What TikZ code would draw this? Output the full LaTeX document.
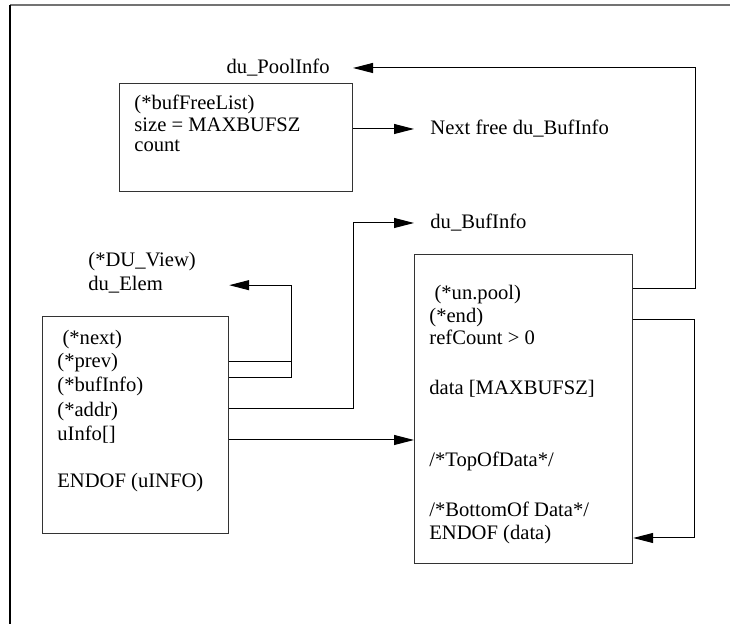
\documentclass[tikz,border=0pt]{standalone}
\usepackage{fontspec}
\setmainfont{Liberation Serif}
\usetikzlibrary{arrows.meta}

\tikzset{
  box/.style={draw=black!80, line width=0.6pt, inner sep=0pt, anchor=north west},
  txt/.style={inner sep=0pt, anchor=base west, font=\fontsize{10.3}{12}\selectfont},
  lbl/.style={inner xsep=0pt, inner ysep=0pt, font=\fontsize{10.3}{12}\selectfont},
  wire/.style={line width=0.5pt},
  ptr/.style={line width=0.5pt, -{Triangle[length=10pt,width=5pt]}}
}

\begin{document}
\begin{tikzpicture}[x=0.5pt,y=-0.5pt]
        \useasboundingbox (0,0) rectangle (730,624);
        \draw[black!55, line width=0.9pt] (10,5) -- (730,5);
        \draw[line width=0.8pt] (10,5) -- (10,624);

        \node[box, minimum width=116.5pt, minimum height=54pt] (pool) at (119,83) {};
        \node[box, minimum width=93pt, minimum height=108.5pt] (elem) at (42,316) {};
        \node[box, minimum width=109pt, minimum height=154.5pt] (buf) at (414,254) {};

        \node[txt] (freelist) at (134,110) {(*bufFreeList)};
        \node[txt] (size) at (134,132) {size = MAXBUFSZ};
        \node[txt] (count) at (134,152) {count};

        \node[txt] (next) at (57,345) {\ (*next)};
        \node[txt] (prev) at (57,368) {(*prev)};
        \node[txt] (bufptr) at (57,392) {(*bufInfo)};
        \node[txt] (addr) at (57,417) {(*addr)};
        \node[txt] (uinfo) at (57,441) {uInfo[]};
        \node[txt] (uend) at (57,488) {ENDOF (uINFO)};

        \node[txt] (unpool) at (429,300) {\ (*un.pool)};
        \node[txt] (endptr) at (429,323) {(*end)};
        \node[txt] (refcount) at (429,345) {refCount > 0};
        \node[txt] (data) at (429,395) {data [MAXBUFSZ]};
        \node[txt] (topdata) at (429,467) {/*TopOfData*/};
        \node[txt] (botdata) at (429,517) {/*BottomOf Data*/};
        \node[txt] (dend) at (429,540) {ENDOF (data)};

        \node[txt] (view) at (88,267) {(*DU\_View)};
        \node[txt] (duelem) at (88,291) {du\_Elem};
        \node[lbl, anchor=east, inner xsep=11.5pt] (poolinfo) at (353,68) {du\_PoolInfo};
        \node[lbl, anchor=west, inner xsep=8pt] (nextfree) at (414,129) {Next free du\_BufInfo};
        \node[lbl, anchor=west, inner xsep=8pt] (bufinfo) at (414,223) {du\_BufInfo};

        % pointers
        \draw[ptr] (buf.east |- 0,289) -- ++(62,0) |- (poolinfo.east);
        \draw[ptr] (pool.east |- 0,129) -- (nextfree.west);
        \draw[ptr] (elem.east |- 0,409) -- ++(124,0) |- (bufinfo.west);
        \draw[wire] (elem.east |- 0,362) -- ++(62,0);
        \draw[ptr] (elem.east |- 0,378) -- ++(62,0) |- (elem.east |- duelem.east);
        \draw[ptr] (elem.east |- 0,440) -- (buf.west |- 0,440);
        \draw[ptr] (buf.east |- 0,320) -- ++(61,0) |- (buf.east |- 0,538);

\end{tikzpicture}
\end{document}
